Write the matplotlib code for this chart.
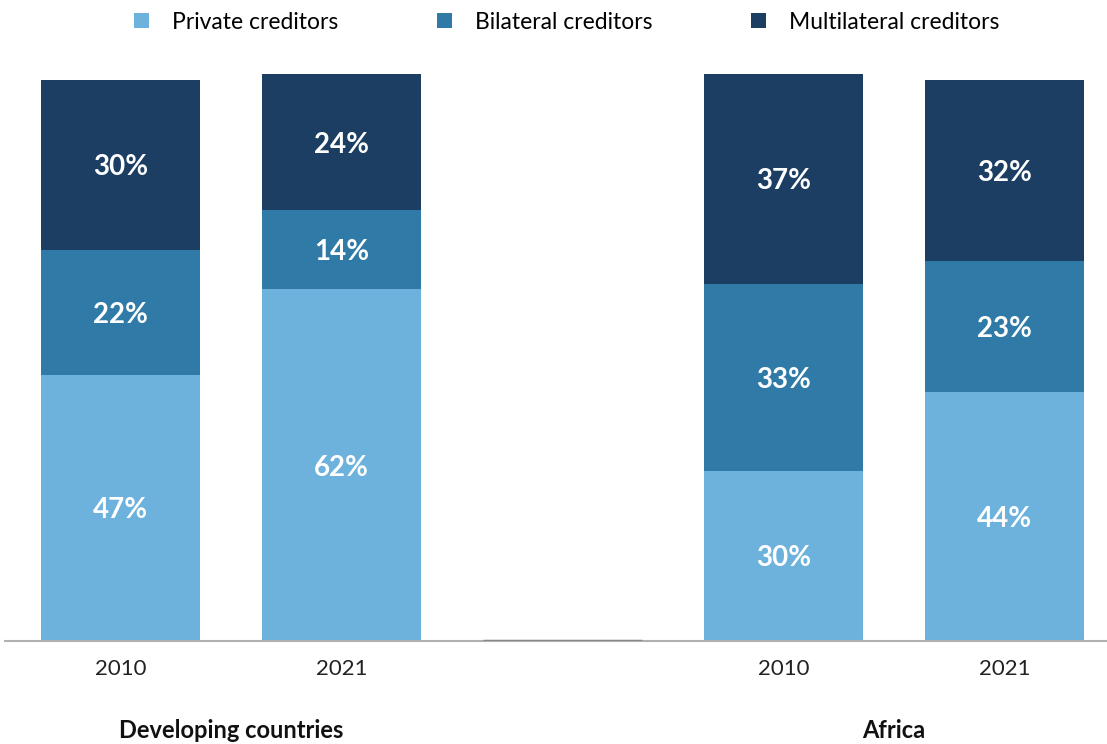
import matplotlib.pyplot as plt
import numpy as np

# ---------------- data ----------------
years = ["2010", "2021", "", "2010", "2021"]
groups = ["Developing countries", "Africa"]
private = [47, 62, 0, 30, 44]
bilateral = [22, 14, 0, 33, 23]
multilateral = [30, 24, 0, 37, 32]
series_names = ["Private creditors", "Bilateral creditors", "Multilateral creditors"]
colors = ["#6DB2DC", "#2F7AA6", "#1B3E62"]

plt.rcParams['font.family'] = ['Lato', 'DejaVu Sans']

fig = plt.figure(figsize=(11.07, 7.44), dpi=100)
ax = fig.add_axes([5 / 1107, 103 / 744, 1 - 5 / 1107, 567 / 744])

x = np.arange(len(years))
bottom = np.zeros(len(years))
for vals, name, col in zip([private, bilateral, multilateral], series_names, colors):
    vals = np.array(vals)
    ax.bar(x, vals, width=0.72, bottom=bottom, color=col, label=name)
    for xi, b, v in zip(x, bottom, vals):
        if v > 0:
            ax.text(xi, b + v / 2, f"{v}%", ha="center", va="center_baseline",
                    color="white", fontsize=20, fontweight="bold")
    bottom = bottom + vals

# empty middle slot marker
ax.plot([2 - 0.36, 2 + 0.36], [0, 0], color="#888888", lw=2.5, solid_capstyle="butt", zorder=3)

ax.set_xlim(-0.523, 4.464)
ax.set_ylim(0, 100)
ax.set_yticks([])
ax.set_xticks(x)
ax.set_xticklabels(years, fontsize=16, color="#222222")
ax.tick_params(axis="x", length=0, pad=13)
for s in ["top", "right", "left"]:
    ax.spines[s].set_visible(False)
ax.spines["bottom"].set_color("#b0b0b0")
ax.spines["bottom"].set_linewidth(1.5)

# group labels
ax.text(0.5, -0.157, groups[0], transform=ax.get_xaxis_transform(), ha="center", va="center",
        fontsize=17, fontweight="bold", color="#111111")
ax.text(3.5, -0.157, groups[1], transform=ax.get_xaxis_transform(), ha="center", va="center",
        fontsize=17, fontweight="bold", color="#111111")

fig.legend(loc="upper center", bbox_to_anchor=(0.512, 1.012), ncol=3, frameon=False,
           fontsize=16.5, handlelength=0.65, handleheight=0.65, handletextpad=1.0,
           columnspacing=4.3)

fig.savefig("out.png", dpi=100)
